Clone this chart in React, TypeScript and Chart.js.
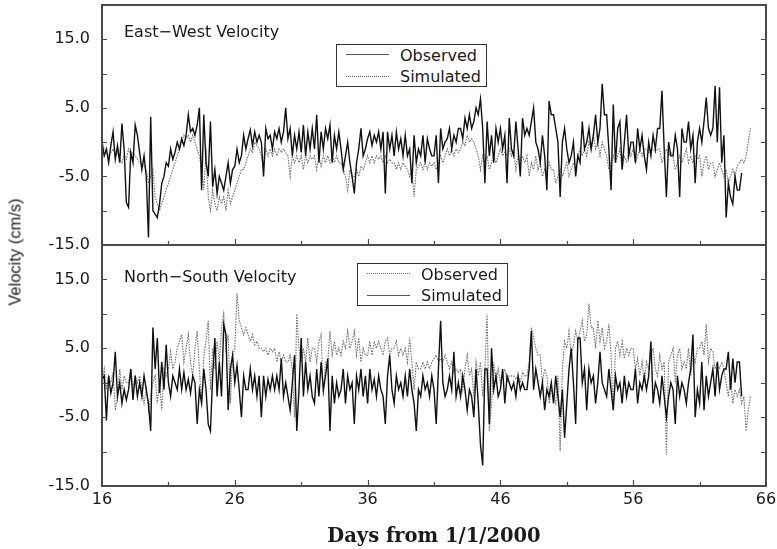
import React, { useEffect, useRef } from 'react';
import { Chart, registerables } from 'chart.js';
Chart.register(...registerables);

// ---------- data ----------
const START_DAY = 16;
const SAMPLES_PER_DAY = 6;
const X_MIN = 16;
const X_MAX = 66;
const Y_MIN = -15;
const Y_MAX = 20;
const X_TICK_LABELS = [16, 26, 36, 46, 56, 66];
const X_TICK_MARKS = [21, 26, 31, 36, 41, 46, 51, 56, 61];
const Y_TICK_LABELS = [-15, -5, 5, 15];
const Y_TICK_MARKS = [-10, -5, 0, 5, 10, 15];

// East-West velocity (cm/s), observed, 6 samples per day from day 16
const ewObserved = [
  0, -2, -1, -3, -0.5, 1.5,
  -2.5, -0.5, -3, 2.7, -1, -8.8,
  -9.5, -1.5, -3, 2.5, 1, -1.5,
  -4, -2, -5, -13.9, 3.7, -10,
  -10.5, -11, -9, -6, -5, -3,
  -3.5, -1, -2.5, -1.5, 0, -1,
  0.5, -0.5, 1, 4, 1.5, 2,
  1, 2.5, 5, -7, 4, -3,
  -5, 3, -6.5, -4, -7.5, -5,
  -6, -7, -5, -3, -6, -4,
  -3.5, -1, -3, -2, 1, -1,
  0.5, 1.8, -0.5, 1.5, 0, 1,
  0, -5, 2, 0.5, 1, -1,
  1.5, 0.5, 2, 0, 1.5, 5,
  0.5, 2, -2, 1, -1, 1.5,
  -1.5, 2.5, -2, 1.5, -1, 2,
  -1, 4, -3, 1.5, -1, 2,
  0.5, 2.5, -3, 1, -1, 1.5,
  -1, -4, -2, 0, -3, -5,
  -7.5, -3, -1, 2, -2, -1,
  0.5, 1.5, -0.5, 1, 0, 1.5,
  -1, 1.5, -7.5, 1.5, -1, 1,
  -2, 1.5, -1, 0.5, -2, 1,
  -2, -1, -6, 1, -3, -1,
  -2, 1, -3, 0.5, -1, -2,
  -2, 1, -6, 2, -1, 0,
  0.5, 2, -1, 1, 0, 2,
  2, 0.5, 3.5, 2, 4, 2,
  3, 5, 4, 6.3, 2, -6,
  3, -2, 1, -3, 2, 0,
  2, -1, 1, -6, 3.5, -1,
  -2, 3, -1, -5, 3.5, 1,
  2, 1, 3, 5, 0, -1,
  -3, 1, -2, -7, 6, 4,
  4, 2, 0, -8, 0, 2,
  -1, -3, -2, 0, -5, -2,
  -3, 3, -1, 0, 2, -1,
  1, 4, 0, 2, 8.5, 4,
  4, -1, -7, 5.5, -3, 2,
  3, -4, 0, 4, -2, 0,
  0, -3, 2, -1, 1, -2,
  -4, 0, -2, 1, -1, 2,
  2, 7.5, -1, -8, 0, -2,
  -2, 1, -1, -8, 2, 0,
  0, 3, -1, 1, -6, 0,
  2, 0, 3, 6.5, 2, 1,
  2, 8.2, 0, 8, -3, 1,
  -11, -6, -8, -9, -5, -7,
  -7, -4.5,
];

// East-West velocity (cm/s), simulated
const ewSimulated = [
  0, -1, -1.5, -2, -1.5, -1,
  -2, -1.5, -2.5, -3, -2, -2.5,
  -1, -2, -1.5, -2, -2.5, -3,
  -3, -3.5, -4, -6, -5, -4,
  -8, -9, -10, -9, -8, -7,
  -6, -5, -4, -3, -2, -1,
  0, 1, 0.5, 1, 0, 1,
  0, -1, -2, -4, -7, -1,
  -8, -10, -7, -9, -10, -8,
  -9, -8, -10, -7, -9, -8,
  -7, -6, -5, -4, -4, -3,
  -2, -1, -1.5, 0, -0.5, -1,
  -2, -4, -1, -2, -1, -2,
  -1, -2, -1, -1.5, -1, -1.5,
  -2, -5, -2, -3, -2, -3,
  -2, -4, -2, -3, -2, -2.5,
  -2, -4, -2, -3.5, -2, -3,
  -2, -3, -2, -3, -2, -3,
  -3, -4, -5, -7, -4, -5,
  -5, -4, -5, -3.5, -4, -3,
  -2, -3, -2, -3, -2, -2.5,
  -2, -3, -2, -3, -2.5, -3,
  -3, -4, -3, -4, -3, -3.5,
  -4, -5, -4, -8, -4, -3.5,
  -3, -4, -3, -4, -3, -3.5,
  -3, -4, -3, -2, -3, -2,
  -1, -2, -1, -2, -1, -1.5,
  -1, 0, -0.5, 1, 0, 0.5,
  0, -1, -2, -4, -2, -3,
  -2, -4, -3, -2, -3, -2,
  -1, -2, -1.5, -2, -1, -2,
  -1, -4, -2, -3, -2, -3,
  -2, -5, -3, -4, -2, -4,
  -3, -5, -4, -5, -3, -4,
  -4, -6, -5, -4, -5, -4,
  -3, -5, -4, -3, -4, -2,
  -1, -2, -1, -2, 0, -1,
  1, -1, 0, -2, 0, -1,
  -2, -4, -3, -2, -3, -2,
  -1, -4, -2, -3, -1, -2,
  -1, -3, -2, -1, -2, -1,
  -1, -1.5, -1, -1, -1.5, -1,
  -1, -3, -2, -1, -2, -1.5,
  -2, -4, -3, -2, -3, -2,
  -1, -3, -2, -3, -2, -2.5,
  -2, -5, -3, -2, -4, -3,
  -3, -5, -4, -3, -4, -5,
  -4, -6, -5, -4, -5, -3.5,
  -3, -2.5, -3, -2, 0, 2,
];

// North-South velocity (cm/s), observed
const nsObserved = [
  0, 2, -1, 1, 0, 1.5,
  -4, -2, 2, -1, 1, 0,
  0, 2, -1, 1, 0, 1,
  -1, -3, -1, -4, -2, 0,
  1, -3, 0, -4, 2, 1,
  2, 4.5, 2, 3, 5, 6,
  7, 3, 5, 7, 3, 1,
  5, 7.5, 2, -3, 4, 6,
  9, -1, 5, 2, 6, 3,
  8, 10, 5, 7, -3, 4,
  5, 13, 9, 8, 7, 8,
  7, 6, 7, 5.5, 6, 5,
  5, 4.5, 5, 4, 5, 4.5,
  5, 3, 4.5, 3, 4, 3,
  3, 4, 2, -5, 10, 5,
  3, 5, 3, 6.5, 3, 5,
  5, 3, 6, 7, -2, 3,
  3, 7.5, 4, 6, 4, 5,
  4, 6, 5, 7.5, 5, 6,
  7.5, 4, 6.5, 3, 5, 4,
  4, 6, 4, 6, 5, 6,
  5, 4, 6, 6.5, 4, 5,
  5, 6, 4, 5, 4, 5,
  3, 6.5, 3, -1, 3, 2,
  2, 3, 2, 3, 2, 3,
  3.5, 4, 3, 3.5, 3, 4,
  3, 2, 3, 1.5, 2, 1.5,
  2, -1, 2, 4, 1, 2,
  -2, 3, 1, 3, -2, 2,
  10, -7, -3, 3, 0, 2,
  0, 1, 2, 0, 1, 1,
  1, 0.5, 1, 0, 1.5, 1,
  1, 3, 8, 6.5, 5, 4,
  4, 0, 2, 1, -3, -1,
  -2, -3, 1, -10, 2, 6,
  5, 7.5, 4, 5.5, 7.5, 6,
  7.5, 9, 6, 7, 11.5, 8,
  8, 5, 9, 6, 8, 5,
  6, 8.5, 4, -4, 5, 6,
  4, 6, 3.5, 5, 4, 5,
  5, 2, 3.5, 1, 3, 0,
  3, 2, 4, 5, 2, 1,
  4, 2, 3, -10.5, 3, 4,
  5, 0, 4, 5, 2, 3,
  2, 5, 1, 4, 3, 5,
  5, 6, 4, 8.5, 3, 5,
  4.5, 2, 3, 2, 3, 2,
  0, -2, 1, -3, -1, -2,
  -1, -3, -2, -7, -4, -2,
];

// North-South velocity (cm/s), simulated
const nsSimulated = [
  0.5, 1, -5.5, 1, -1.5, 0,
  4.5, -2, 0, -3, -1, -2.5,
  -1, 2, -2.5, 1, -2, 0,
  -2, 1, -1, -3, -7, 8,
  2, 6.5, -1.5, 3, -1, 5.5,
  0, -2, 1, 0, -1, 2,
  -1, 1.5, -1, 0.5, -1.5, 1,
  0, -6, -1, -3, 2, -1,
  -6, -7, 1, 6.5, -2, 3,
  -2, 8.5, 7, -4, 2, 4,
  0, 2.5, -1, -5, 1, -1,
  -1, 2, -1, 1, -2, 1,
  -5, 1, -2, 0.5, -1, 1,
  -1, 1, -1, 3.5, -2, 0,
  -2, -4, 0, 4, -7, -1,
  6.5, -2, 3, -1, 1, -2,
  -3, 2, -2, 3, -1, 1,
  3.5, -7, 1, -3, 0, -2,
  -1, 2, -3, 1, -1, 0,
  -6, 1, -1, 2, -2, 1,
  -3, 2, -1, 0.5, -2, 1,
  -1, -2, -6, 1, 4, -1,
  -3, 1, -1, 0, -2, 1,
  -2, 2, -1, -3, -7, -1,
  -2, 1, -1, 0, -2, 1,
  -1, -6, 2, 9, 0, -2,
  -1, 1, -1, 4.5, -2, 0,
  -2, 1, -1, -4, -1, -2,
  -5, 2, -3, -9, -12, 2,
  2, -6, 5, -1, 1, -2,
  -1, 2, -3, 1, 0, -1,
  0, -2, 1, -1, 0, -1,
  -1, 2, 7.5, -1, 2, 0,
  -2, 0, -4, -1, -2, 0,
  -3, 1, -2, -5, -1, -8,
  -3, 2, 5, 0, -6, 6.5,
  6.5, 0, 2, -4, 2, 0,
  1, -3, 0, 4.5, 0, -1,
  -2, 2, -1, -4, 1, -1,
  0, -3, 1, -2, 0, -1,
  -1, 2, -3, 0, -1, 1,
  -1, 1, 6, -3, 0, -1,
  -3, 1, -2, -5, -2, 0,
  -1, -6, 1, -2, 0, -1,
  -3, 0, 2, 7, -5, -1,
  -3, 3, -4, 1, -2, 0,
  2, -2, 3, -1, 1, 2,
  2, 4.5, -1, 3.5, 0, 3,
  3, -2,
];

// ---------- styling helpers ----------
const SOLID_COLOR = '#111111';
const DOTTED_COLOR = '#6f6f6f';
const FRAME_COLOR = '#4a4a4a';
const TEXT_COLOR = '#1a1a1a';
const SANS = '"DejaVu Sans", sans-serif';

function dataset(label: string, values: number[], dotted: boolean) {
  return {
    label,
    data: values.map((y, i) => ({ x: START_DAY + i / SAMPLES_PER_DAY, y })),
    borderColor: dotted ? DOTTED_COLOR : SOLID_COLOR,
    borderWidth: dotted ? 1.1 : 1.4,
    borderDash: dotted ? [1.5, 1.2] : [],
    pointRadius: 0,
    tension: 0,
    fill: false,
  };
}

const framePlugin = {
  id: 'panelFrame',
  afterDraw(chart: any) {
    const { ctx, chartArea: a, scales } = chart;
    const xs = scales.x;
    const ys = scales.y;
    ctx.save();
    ctx.strokeStyle = FRAME_COLOR;
    ctx.lineWidth = 2;
    ctx.strokeRect(a.left, a.top, a.right - a.left, a.bottom - a.top);
    ctx.lineWidth = 1.2;
    ctx.beginPath();
    for (const v of Y_TICK_MARKS) {
      const py = Math.round(ys.getPixelForValue(v)) + 0.5;
      ctx.moveTo(a.left, py);
      ctx.lineTo(a.left + 5, py);
      ctx.moveTo(a.right, py);
      ctx.lineTo(a.right - 5, py);
    }
    for (const v of X_TICK_MARKS) {
      const px = Math.round(xs.getPixelForValue(v)) + 0.5;
      const len = X_TICK_LABELS.includes(v) ? 6 : 4;
      ctx.moveTo(px, a.bottom);
      ctx.lineTo(px, a.bottom - len);
    }
    ctx.stroke();
    ctx.restore();
  },
};

function makeConfig(datasets: any[], showX: boolean, padding: any, xHeight: number) {
  const tickFont = { family: 'DejaVu Sans', size: 16 };
  return {
    type: 'line',
    data: { datasets },
    options: {
      animation: false,
      responsive: false,
      maintainAspectRatio: false,
      layout: { padding },
      plugins: { legend: { display: false }, tooltip: { enabled: false }, title: { display: false } },
      scales: {
        x: {
          type: 'linear',
          min: X_MIN,
          max: X_MAX,
          grid: { display: false, drawTicks: false },
          border: { display: false },
          afterBuildTicks: (s: any) => {
            s.ticks = X_TICK_LABELS.map((value) => ({ value }));
          },
          afterFit: (s: any) => {
            s.height = xHeight;
            s.paddingLeft = 0;
            s.paddingRight = 0;
          },
          ticks: {
            display: showX,
            padding: 4,
            maxRotation: 0,
            autoSkip: false,
            color: TEXT_COLOR,
            font: tickFont,
            callback: (v: any) => String(v),
          },
        },
        y: {
          type: 'linear',
          min: Y_MIN,
          max: Y_MAX,
          grid: { display: false, drawTicks: false },
          border: { display: false },
          afterBuildTicks: (s: any) => {
            s.ticks = Y_TICK_LABELS.map((value) => ({ value }));
          },
          afterFit: (s: any) => {
            s.width = 94;
            s.paddingTop = 0;
            s.paddingBottom = 0;
          },
          ticks: {
            padding: 12,
            color: TEXT_COLOR,
            font: tickFont,
            callback: (v: any) => Number(v).toFixed(1),
          },
        },
      },
    },
    plugins: [framePlugin],
  } as any;
}

function Panel(props: { top: number; height: number; datasets: any[]; showX: boolean; padding: any; xHeight: number }) {
  const ref = useRef<HTMLCanvasElement | null>(null);
  useEffect(() => {
    if (!ref.current) return;
    const chart = new Chart(ref.current, makeConfig(props.datasets, props.showX, props.padding, props.xHeight));
    return () => chart.destroy();
  }, []);
  return (
    <canvas
      ref={ref}
      width={777}
      height={props.height}
      style={{ position: 'absolute', left: 0, top: props.top, width: 777, height: props.height }}
    />
  );
}

function Label(props: { left: number; baseline: number; text: string }) {
  return (
    <div
      style={{
        position: 'absolute',
        left: props.left,
        top: props.baseline - 13.5,
        font: `16px ${SANS}`,
        lineHeight: '16px',
        color: TEXT_COLOR,
        whiteSpace: 'nowrap',
      }}
    >
      {props.text}
    </div>
  );
}

function Legend(props: { left: number; top: number; rows: { label: string; dotted: boolean }[] }) {
  const sampleY = [10, 32];
  const baseY = [17.5, 38];
  return (
    <div
      style={{
        position: 'absolute',
        left: props.left,
        top: props.top,
        width: 151,
        height: 43,
        boxSizing: 'border-box',
        border: '1px solid #333',
        background: '#fff',
      }}
    >
      {props.rows.map((r, i) => (
        <React.Fragment key={r.label}>
          <div
            style={{
              position: 'absolute',
              left: 9,
              top: sampleY[i] - 1,
              width: 43,
              height: 0,
              borderTop: r.dotted ? `1px dotted ${DOTTED_COLOR}` : '1.5px solid #555',
            }}
          />
          <Label left={63} baseline={baseY[i] - 1} text={r.label} />
        </React.Fragment>
      ))}
    </div>
  );
}

export default function App() {
  const topSets = [dataset('Observed', ewObserved, false), dataset('Simulated', ewSimulated, true)];
  const bottomSets = [dataset('Simulated', nsSimulated, false), dataset('Observed', nsObserved, true)];
  return (
    <div style={{ position: 'absolute', left: 0, top: 0, width: 777, height: 549, background: '#fff', overflow: 'hidden' }}>
      <Panel top={235} height={314} datasets={bottomSets} showX={true} padding={{ left: 8, right: 11, top: 10, bottom: 0 }} xHeight={63} />
      <Panel top={0} height={260} datasets={topSets} showX={false} padding={{ left: 8, right: 11, top: 5, bottom: 15 }} xHeight={0} />
      <Label left={124} baseline={37} text="East−West Velocity" />
      <Label left={124} baseline={282} text="North−South Velocity" />
      <Legend
        left={336}
        top={44}
        rows={[
          { label: 'Observed', dotted: false },
          { label: 'Simulated', dotted: true },
        ]}
      />
      <Legend
        left={357}
        top={263}
        rows={[
          { label: 'Observed', dotted: true },
          { label: 'Simulated', dotted: false },
        ]}
      />
      <div
        style={{
          position: 'absolute',
          left: 15,
          top: 252,
          transform: 'translate(-50%, -50%) rotate(-90deg)',
          font: '16.5px "Liberation Sans", Arial, sans-serif',
          color: TEXT_COLOR,
          whiteSpace: 'nowrap',
        }}
      >
        Velocity (cm/s)
      </div>
      <div
        style={{
          position: 'absolute',
          left: 434,
          top: 535,
          transform: 'translate(-50%, -50%)',
          font: 'bold 19.5px "DejaVu Serif", serif',
          color: TEXT_COLOR,
          whiteSpace: 'nowrap',
        }}
      >
        Days from 1/1/2000
      </div>
    </div>
  );
}
